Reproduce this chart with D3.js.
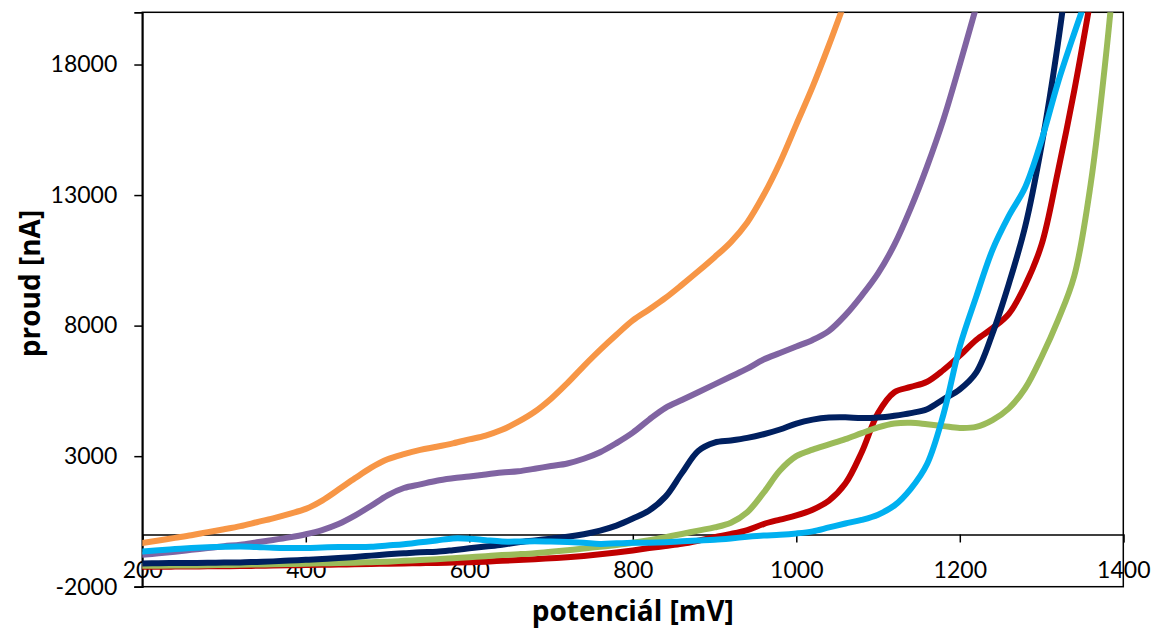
<!DOCTYPE html>
<html>
<head>
<meta charset="utf-8">
<script src="https://cdn.jsdelivr.net/npm/d3@7/dist/d3.min.js"></script>
<style>
  html, body { margin: 0; padding: 0; background: #fff; }
  svg { display: block; }
  .tick text { font-family: Lato, "Open Sans", sans-serif; font-size: 23px; fill: #000; }
  .title { font-family: "Open Sans", Lato, sans-serif; font-weight: bold; font-size: 28px; fill: #000; }
</style>
</head>
<body>
<svg id="chart" width="1153" height="630"></svg>
<script>
// Potential sweep (mV), shared by all six voltammograms
const potential = d3.range(200, 1401, 20);

// Current (nA) per curve; the array ends once a curve has left the plotted range
const currentOrange = [-330, -230, -130, -30, 90, 200, 320, 470, 620, 790,
  980, 1300, 1720, 2150, 2560, 2880, 3080, 3240, 3360, 3490,
  3640, 3790, 4010, 4320, 4700, 5200, 5800, 6450, 7070, 7650,
  8200, 8620, 9060, 9560, 10080, 10620, 11200, 11950, 13000, 14250,
  15700, 17150, 18750, 20450];

const currentPurple = [-780, -720, -660, -590, -520, -450, -390, -300, -210, -110,
  10, 170, 400, 720, 1100, 1500, 1780, 1920, 2060, 2150,
  2220, 2300, 2370, 2420, 2520, 2620, 2720, 2900, 3150, 3500,
  3900, 4400, 4850, 5150, 5450, 5750, 6050, 6350, 6700, 6950,
  7200, 7450, 7800, 8400, 9150, 10000, 11100, 12500, 14100, 15900,
  18000, 20200];

const currentNavy = [-1110, -1100, -1095, -1090, -1085, -1075, -1070, -1050, -1030, -1000,
  -970, -940, -905, -860, -810, -760, -720, -680, -660, -600,
  -530, -460, -390, -300, -230, -160, -90, 10, 150, 340,
  610, 920, 1450, 2350, 3200, 3520, 3600, 3700, 3840, 4020,
  4250, 4400, 4480, 4490, 4460, 4480, 4550, 4650, 4800, 5180,
  5560, 6200, 7700, 9600, 11800, 14900, 18800, 23600];

const currentGreen = [-1200, -1195, -1190, -1185, -1180, -1170, -1160, -1150, -1140, -1130,
  -1120, -1105, -1095, -1080, -1060, -1040, -1010, -980, -950, -910,
  -870, -830, -790, -755, -715, -660, -600, -540, -470, -400,
  -320, -220, -100, 20, 150, 270, 450, 850, 1600, 2450,
  3000, 3250, 3450, 3650, 3880, 4100, 4250, 4280, 4220, 4150,
  4080, 4120, 4380, 4830, 5600, 6800, 8200, 9900, 13400, 18700,
  25500];

const currentRed = [-1240, -1235, -1230, -1225, -1220, -1215, -1210, -1200, -1190, -1180,
  -1170, -1160, -1150, -1140, -1130, -1120, -1110, -1100, -1090, -1075,
  -1060, -1040, -1010, -980, -950, -910, -870, -820, -760, -690,
  -610, -520, -440, -360, -240, -100, 20, 170, 400, 570,
  730, 950, 1300, 1950, 3150, 4650, 5450, 5650, 5850, 6300,
  6850, 7450, 7900, 8450, 9550, 11100, 13900, 17000, 20500];

const currentLightBlue = [-650, -600, -560, -520, -490, -470, -460, -480, -510, -520,
  -520, -500, -480, -480, -470, -420, -370, -300, -230, -150,
  -160, -220, -270, -270, -260, -270, -290, -320, -360, -340,
  -320, -320, -300, -260, -230, -200, -150, -90, -40, -10,
  40, 120, 270, 420, 560, 760, 1110, 1750, 2700, 4600,
  7200, 9100, 10900, 12200, 13300, 15100, 17300, 19200, 21000];

// Axis tick values
const xTicks = [200, 400, 600, 800, 1000, 1200, 1400];
const yTicks = [-2000, 3000, 8000, 13000, 18000];

// Drawing order: later entries are painted on top
const series = [
  { values: currentOrange, color: "#F79646" },
  { values: currentPurple, color: "#8064A2" },
  { values: currentRed, color: "#C00000" },
  { values: currentGreen, color: "#9BBB59" },
  { values: currentNavy, color: "#002060" },
  { values: currentLightBlue, color: "#00B0F0" }
];

const svg = d3.select("#chart");
const plot = { left: 142.3, right: 1123.3, top: 12.3, bottom: 586.7 };

const x = d3.scaleLinear().domain([200, 1400]).range([plot.left, plot.right]);
const y = d3.scaleLinear().domain([-2000, 20000]).range([plot.bottom, plot.top]);

svg.append("defs").append("clipPath").attr("id", "plot-clip")
  .append("rect")
  .attr("x", plot.left).attr("y", plot.top)
  .attr("width", plot.right - plot.left).attr("height", plot.bottom - plot.top);

// Plot-area frame
svg.append("rect")
  .attr("x", plot.left).attr("y", plot.top)
  .attr("width", plot.right - plot.left).attr("height", plot.bottom - plot.top)
  .attr("fill", "none").attr("stroke", "#000").attr("stroke-width", 1.5);

// Y axis on the left edge
const yAxis = svg.append("g")
  .attr("transform", `translate(${plot.left},0)`)
  .call(d3.axisLeft(y).tickValues(yTicks).tickSize(8).tickPadding(17).tickFormat(d => String(d)));
yAxis.select(".domain").attr("stroke", "#000").attr("stroke-width", 1.8);
yAxis.selectAll(".tick line").attr("stroke", "#000").attr("stroke-width", 1.5);

// X axis crossing at zero current
const xAxis = svg.append("g")
  .attr("transform", `translate(0,${y(0)})`)
  .call(d3.axisBottom(x).tickValues(xTicks).tickSize(8).tickPadding(19).tickFormat(d => String(d)));
xAxis.select(".domain").attr("stroke", "#000").attr("stroke-width", 1.5);
xAxis.selectAll(".tick line").attr("stroke", "#000").attr("stroke-width", 1.5);

// Voltammogram curves
const line = d3.line()
  .x(d => x(d[0]))
  .y(d => y(d[1]))
  .curve(d3.curveCatmullRom.alpha(0.5));

const curves = svg.append("g").attr("clip-path", "url(#plot-clip)");
series.forEach(s => {
  const pts = s.values.map((v, i) => [potential[i], v]);
  curves.append("path")
    .datum(pts)
    .attr("d", line)
    .attr("fill", "none")
    .attr("stroke", s.color)
    .attr("stroke-width", 6)
    .attr("stroke-linejoin", "round")
    .attr("stroke-linecap", "round");
});

// Axis titles
svg.append("text").attr("class", "title")
  .attr("x", (plot.left + plot.right) / 2).attr("y", 621)
  .attr("text-anchor", "middle")
  .text("potenciál [mV]");

svg.append("text").attr("class", "title")
  .attr("transform", "translate(40,283.5) rotate(-90)")
  .attr("text-anchor", "middle")
  .text("proud [nA]");
</script>
</body>
</html>
